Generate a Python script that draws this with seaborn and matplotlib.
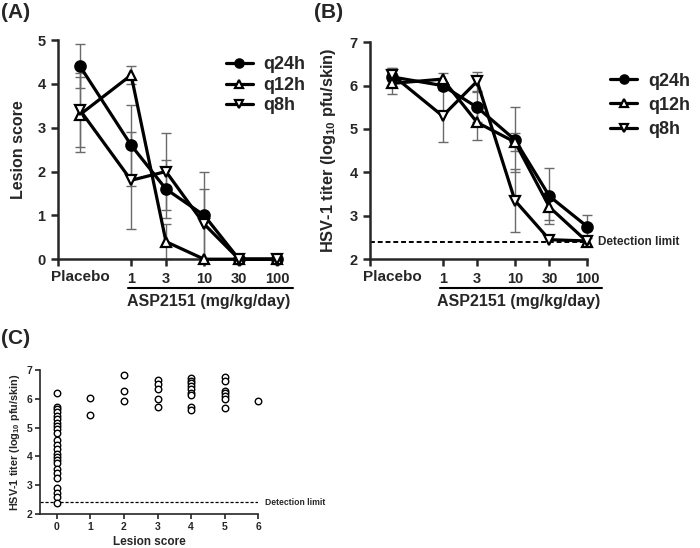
import matplotlib
matplotlib.use("Agg")
import matplotlib.pyplot as plt
from matplotlib.lines import Line2D
import seaborn as sns
import pandas as pd
import numpy as np

# --- data -------------------------------------------------------------
# placebo is drawn at 0.2 on the log dose axis
doses = [0.2, 1, 3, 10, 30, 100]
dose_ticks = [0.1, 1, 3, 10, 30, 100]
dose_ticklabels = ["", "1", "3", "10", "30", "100"]
regimens = ["q24h", "q12h", "q8h"]

lesion_q24h = [4.4, 2.6, 1.6, 1.0, 0.0, 0.0]
lesion_q24h_sd = [0.5, 0.92, 0.67, 1.0, 0.0, 0.0]
lesion_q12h = [3.3, 4.2, 0.4, 0.0, 0.0, 0.0]
lesion_q12h_sd = [0.85, 0.2, 0.4, 0.0, 0.0, 0.0]
lesion_q8h = [3.4, 1.8, 2.0, 0.8, 0.0, 0.0]
lesion_q8h_sd = [0.85, 1.1, 0.88, 0.8, 0.0, 0.0]

titer_q24h = [6.2, 6.0, 5.5, 4.75, 3.45, 2.75]
titer_q24h_sd = [0.2, 0.0, 0.35, 0.75, 0.65, 0.27]
titer_q12h = [6.05, 6.15, 5.15, 4.7, 3.2, 2.4]
titer_q12h_sd = [0.25, 0.15, 0.4, 0.2, 0.3, 0.0]
titer_q8h = [6.25, 5.3, 6.1, 3.35, 2.45, 2.42]
titer_q8h_sd = [0.15, 0.6, 0.22, 0.72, 0.0, 0.0]

detection_limit = 2.4

score_0 = [6.21, 5.73, 5.63, 5.53, 5.41, 5.29, 5.17, 5.06, 4.94, 4.82, 4.57,
           4.41, 4.25, 4.08, 3.97, 3.88, 3.76, 3.55, 3.41, 3.25, 2.89, 2.74,
           2.58, 2.39]
score_1 = [6.02, 5.44]
score_2 = [6.83, 6.27, 5.93]
score_3 = [6.65, 6.50, 6.33, 5.98, 5.70]
score_4 = [6.71, 6.63, 6.54, 6.44, 6.33, 6.19, 6.13, 5.73, 5.61]
score_5 = [6.77, 6.63, 6.28, 6.19, 6.10, 5.98, 5.67]
score_6 = [5.92]

# --- style ------------------------------------------------------------
sns.set_theme(style="ticks")
plt.rcParams["font.family"] = ["Liberation Sans", "DejaVu Sans"]
plt.rcParams["font.weight"] = "bold"
plt.rcParams["axes.labelweight"] = "bold"
plt.rcParams["mathtext.fontset"] = "custom"
plt.rcParams["mathtext.rm"] = "Liberation Sans:bold"
plt.rcParams["mathtext.bf"] = "Liberation Sans:bold"

marker_styles = {
    "q24h": dict(marker="o", markerfacecolor="black"),
    "q12h": dict(marker="^", markerfacecolor="white"),
    "q8h": dict(marker="v", markerfacecolor="white"),
}
titer_label = r"HSV-1 titer (log$_{\mathrm{10}}$ pfu/skin)"

fig = plt.figure(figsize=(7, 5.48), dpi=100)
ax_a = fig.add_axes([0.083, 0.527, 0.313, 0.400])
ax_b = fig.add_axes([0.529, 0.527, 0.310, 0.396])
ax_c = fig.add_axes([0.057, 0.062, 0.312, 0.263])


def dose_panel(ax, series, ylim, ylabel, ylabel_size):
    ax.set_xscale("log")
    for name, (vals, sd) in zip(regimens, series):
        vals = np.array(vals)
        sd = np.array(sd)
        keep = sd > 0
        ax.errorbar(np.array(doses)[keep], vals[keep], yerr=sd[keep], fmt="none",
                    ecolor="#6a6a6a", elinewidth=1.0, capsize=3.6, capthick=1.0,
                    zorder=1, clip_on=False)
        df = pd.DataFrame({"dose": doses, "value": vals})
        sns.lineplot(data=df, x="dose", y="value", ax=ax, color="black",
                     linewidth=2.3, markersize=7.5, markeredgewidth=1.6,
                     markeredgecolor="black", label=name, errorbar=None,
                     clip_on=False, zorder=3, **marker_styles[name])
    ax.set_xlim(0.1, 100)
    ax.set_ylim(*ylim)
    ax.set_xticks(dose_ticks, dose_ticklabels)
    ax.set_xticks([0.2], ["Placebo"], minor=True)
    ax.tick_params(axis="x", which="minor", length=0, pad=8)
    ax.tick_params(which="major", length=5, width=1.8, labelsize=10.5, pad=4)
    ax.set_xlabel("")
    ax.set_ylabel(ylabel, fontsize=ylabel_size, labelpad=8)
    for s in ["left", "bottom"]:
        ax.spines[s].set_linewidth(1.8)
    sns.despine(ax=ax)
    for t in ax.get_xticklabels(minor=True) + ax.get_xticklabels() + ax.get_yticklabels():
        t.set_fontweight("bold")
    # drug name bar below dose labels
    ax.add_line(Line2D([0.32, 1.07], [-0.132, -0.132], transform=ax.transAxes,
                       color="black", lw=1.5, clip_on=False))
    ax.text(0.685, -0.195, "ASP2151 (mg/kg/day)", transform=ax.transAxes,
            ha="center", va="center", fontsize=11.5, fontweight="bold")


dose_panel(ax_a,
           [(lesion_q24h, lesion_q24h_sd), (lesion_q12h, lesion_q12h_sd),
            (lesion_q8h, lesion_q8h_sd)],
           (0, 5), "Lesion score", 11.5)
ax_a.set_yticks(range(0, 6))
ax_a.legend(loc="upper left", bbox_to_anchor=(0.69, 1.0), frameon=False,
            handlelength=1.5, handletextpad=0.6, labelspacing=0.2, markerscale=0.8,
            prop={"weight": "bold", "size": 13})

dose_panel(ax_b,
           [(titer_q24h, titer_q24h_sd), (titer_q12h, titer_q12h_sd),
            (titer_q8h, titer_q8h_sd)],
           (2, 7), titer_label, 11.8)
ax_b.set_yticks(range(2, 8))
ax_b.axhline(detection_limit, color="black", lw=1.4, ls=(0, (2.5, 1.5)), zorder=0)
ax_b.text(1.05, (detection_limit - 2) / 5, "Detection limit", transform=ax_b.transAxes,
          ha="left", va="center", fontsize=8.5, fontweight="bold", clip_on=False)
ax_b.legend(loc="upper left", bbox_to_anchor=(1.03, 0.935), frameon=False,
            handlelength=1.5, handletextpad=0.6, labelspacing=0.4, markerscale=0.8,
            prop={"weight": "bold", "size": 13})

# --- panel C: lesion score vs titer ------------------------------------
score_lists = [score_0, score_1, score_2, score_3, score_4, score_5, score_6]
scatter_df = pd.DataFrame({
    "score": np.concatenate([[i] * len(v) for i, v in enumerate(score_lists)]),
    "titer": np.concatenate(score_lists),
})
sns.scatterplot(data=scatter_df, x="score", y="titer", ax=ax_c, marker="o",
                s=22, facecolor="white", edgecolor="black", linewidth=1.0,
                clip_on=False, zorder=3)
ax_c.axhline(detection_limit, color="black", lw=0.9, ls=(0, (2.5, 1.5)), zorder=0)
ax_c.text(1.03, (detection_limit - 2) / 5, "Detection limit", transform=ax_c.transAxes,
          ha="left", va="center", fontsize=6.2, fontweight="bold", clip_on=False)
ax_c.set_xlim(-0.5, 6)
ax_c.set_ylim(2, 7)
ax_c.set_xticks(range(0, 7))
ax_c.set_yticks(range(2, 8))
ax_c.tick_params(length=3.5, width=1.2, labelsize=7.5, pad=2)
for t in ax_c.get_xticklabels() + ax_c.get_yticklabels():
    t.set_fontweight("bold")
ax_c.set_xlabel("Lesion score", fontsize=8.5, labelpad=3)
ax_c.set_ylabel(titer_label, fontsize=7.8, labelpad=3)
for s in ["left", "bottom"]:
    ax_c.spines[s].set_linewidth(1.2)
sns.despine(ax=ax_c)

# panel letters
fig.text(0.002, 0.995, "(A)", ha="left", va="top", fontsize=15, fontweight="bold")
fig.text(0.448, 0.995, "(B)", ha="left", va="top", fontsize=15, fontweight="bold")
fig.text(0.002, 0.400, "(C)", ha="left", va="top", fontsize=15, fontweight="bold")

fig.savefig("out.png", dpi=100)
